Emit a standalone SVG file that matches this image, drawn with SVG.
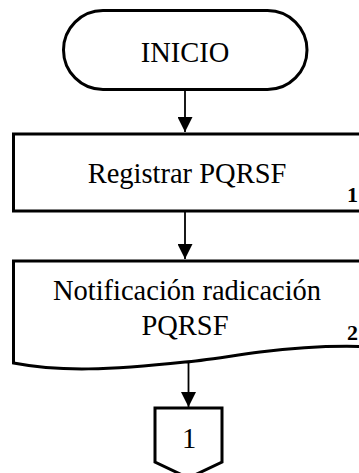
<svg xmlns="http://www.w3.org/2000/svg" width="359" height="473" viewBox="0 0 359 473">
<defs>
<marker id="ah" markerWidth="15" markerHeight="15" viewBox="0 0 15 15" refX="15" refY="7.5" orient="auto" markerUnits="userSpaceOnUse">
<path d="M0,0 L15,7.5 L0,15 Z" fill="#000"/>
</marker>
<style>
.shape{fill:#fff;stroke:#000;stroke-width:3;stroke-linejoin:miter}
.c{fill:none;stroke:#000;stroke-width:1.8}
</style>
</defs>
<rect width="359" height="473" fill="#fff"/>
<g id="connectors">
<line class="c" x1="185" y1="89" x2="185" y2="132" marker-end="url(#ah)"/>
<line class="c" x1="185" y1="211" x2="185" y2="259" marker-end="url(#ah)"/>
<line class="c" x1="188.5" y1="362" x2="188.5" y2="407" marker-end="url(#ah)"/>
</g>
<g font-family="Liberation Serif, Times New Roman, serif" fill="#000">
<g id="inicio">
<rect class="shape" x="63.5" y="10.5" width="243.5" height="79" rx="39.5" ry="39.5" stroke-width="2.6"/>
<text x="185" y="61.5" font-size="28.5" text-anchor="middle">INICIO</text>
</g>
<g id="registrar">
<rect class="shape" x="13.5" y="134" width="360" height="77"/>
<text x="187" y="183" font-size="28.5" text-anchor="middle">Registrar PQRSF</text>
<text x="358" y="202" font-size="22" font-weight="bold" text-anchor="end">1</text>
</g>
<g id="notificacion">
<path class="shape" d="M13.5,363 L13.5,261 L375,261 L375,347 C335,345 300,347 260,352 C230,356 200,361 185,362 C110,370 60,372 13.5,363 Z"/>
<text x="187" y="300" font-size="28.5" text-anchor="middle">Notificación radicación</text>
<text x="185" y="335" font-size="28.5" text-anchor="middle">PQRSF</text>
<text x="358" y="340" font-size="22" font-weight="bold" text-anchor="end">2</text>
</g>
<g id="conector1">
<path class="shape" d="M155,408 L222,408 L222,462 L188.5,478 L155,462 Z"/>
<text x="189" y="448" font-size="28.5" text-anchor="middle">1</text>
</g>
</g>
</svg>
